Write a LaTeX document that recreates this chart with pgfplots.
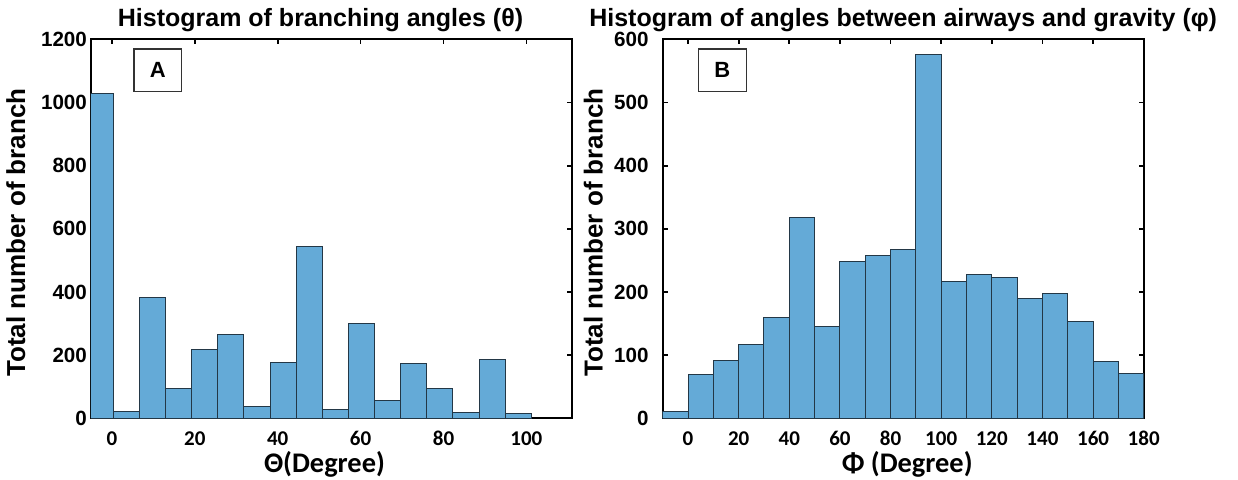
\documentclass[border=0pt]{standalone}
\usepackage{pgfplots}
\pgfplotsset{compat=1.18}
\usepackage{fontspec}
\setmainfont{Liberation Sans}
\newfontfamily\calibri{Carlito}
\definecolor{barfill}{RGB}{100,170,215}
\definecolor{baredge}{RGB}{35,55,70}

\tikzset{
  panelbox/.style={draw=black!80, line width=0.6pt, minimum width=23.85pt, minimum height=21.35pt, inner sep=0pt, font=\bfseries\fontsize{11}{13}\selectfont},
}
\pgfplotsset{
  myhist/.style={
    scale only axis,
    width=240.5pt, height=189.5pt,
    anchor=south west,
    axis line style={line width=1pt, black},
    tick style={line width=0.9pt, black},
    major tick length=2.5pt,
    tick align=inside,
    /pgf/number format/assume math mode=true,
    /pgf/number format/1000 sep={},
    xticklabel style={font=\calibri\bfseries\fontsize{10.5}{12}\selectfont, anchor=base, yshift=-13.35pt},
    yticklabel style={font=\bfseries\fontsize{10.3}{12}\selectfont, anchor=east, inner sep=0pt},
    ylabel style={font=\bfseries\fontsize{13}{15}\selectfont, anchor=base},
    xlabel style={font=\calibri\bfseries\fontsize{14.2}{16}\selectfont, at={(axis description cs:0.5,0)}, anchor=base, yshift=-27pt},
    title style={font=\bfseries\fontsize{12.5}{14}\selectfont, at={(axis description cs:0.5,1)}, anchor=base, yshift=0.2pt},
    ymin=0,
  },
  mybars/.style={ybar interval, fill=barfill, draw=baredge, line width=0.5pt},
}

\begin{document}
\begin{tikzpicture}
\useasboundingbox (0,0) rectangle (619pt,239.5pt);

% Panel A
\begin{axis}[myhist,
  at={(45.5pt,30.35pt)},
  xmin=-5.04, xmax=111.0,
  ymax=1200,
  xtick={0,20,40,60,80,100},
  ytick={0,200,400,600,800,1000,1200},
  yticklabel style={xshift=-1.85pt},
  title style={xshift=-5.5pt},
  xlabel style={xshift=-3.5pt},
  title={Histogram of branching angles (θ)},
  xlabel={Θ(Degree)},
  ylabel={Total number of branch},
  ylabel style={at={(axis description cs:-0.137,0.49)}},
]
\addplot[mybars] coordinates {
(-5.99,1029) (0.315,20) (6.62,383) (12.925,94) (19.23,219) (25.535,264)
(31.84,36) (38.145,178) (44.45,545) (50.755,27) (57.06,299) (63.365,56)
(69.67,174) (75.975,94) (82.28,18) (88.585,187) (94.89,14) (101.195,0)
};
\node[panelbox] at (axis description cs:0.139,0.918) {A};
\end{axis}

% Panel B
\begin{axis}[myhist,
  at={(331.35pt,30.35pt)},
  xmin=-10, xmax=180,
  ymax=600,
  xtick={0,20,40,60,80,100,120,140,160,180},
  ytick={0,100,200,300,400,500,600},
  yticklabel style={xshift=-6.85pt},
  xlabel style={xshift=2pt},
  title={Histogram of angles between airways and gravity (φ)},
  xlabel={Φ (Degree)},
  ylabel={Total number of branch},
  ylabel style={at={(axis description cs:-0.125,0.49)}},
]
\addplot[mybars] coordinates {
(-10,11) (0,69) (10,92) (20,117) (30,159) (40,318) (50,146) (60,249)
(70,257) (80,267) (90,576) (100,216) (110,227) (120,223) (130,190)
(140,197) (150,154) (160,90) (170,71) (180,0)
};
\node[panelbox] at (axis description cs:0.124,0.918) {B};
\end{axis}
\end{tikzpicture}
\end{document}
